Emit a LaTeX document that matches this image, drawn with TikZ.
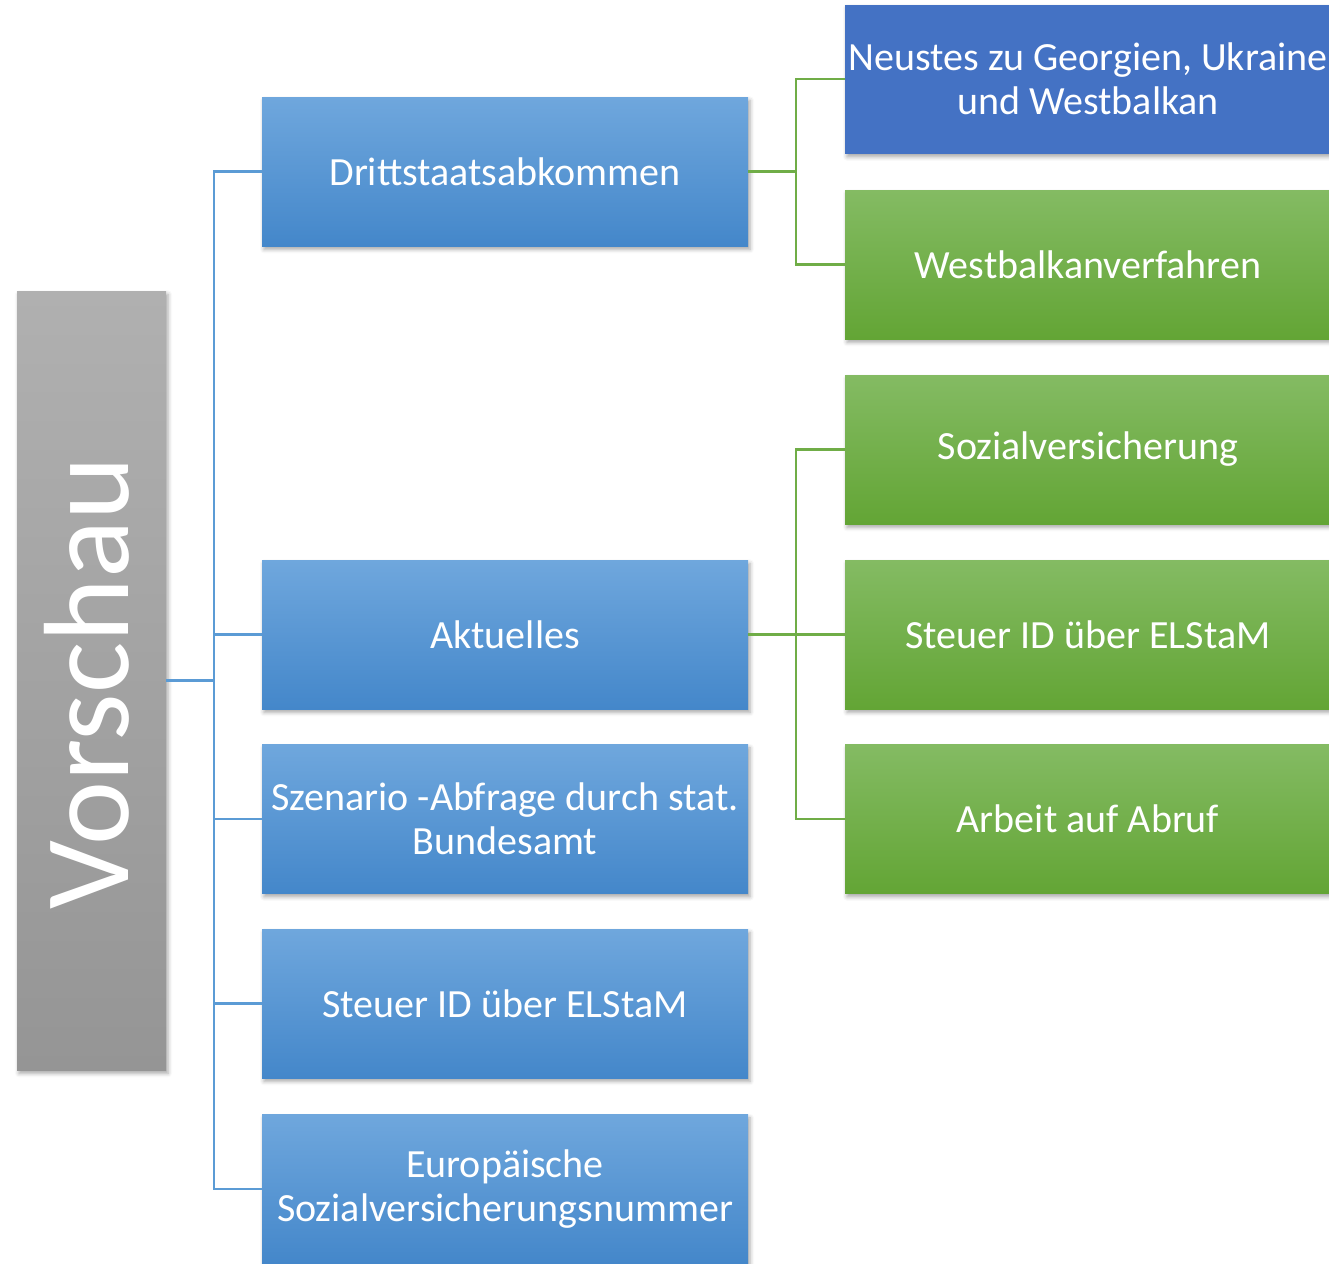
\documentclass[tikz,border=0pt]{standalone}
\usepackage{fontspec}
\setmainfont{Carlito}
\usetikzlibrary{shadows.blur}
\definecolor{bluetop}{HTML}{6FA7DD}
\definecolor{bluebot}{HTML}{4487CA}
\definecolor{greentop}{HTML}{84BB63}
\definecolor{greenbot}{HTML}{63A535}
\definecolor{graytop}{HTML}{B0B0B0}
\definecolor{graybot}{HTML}{959595}
\definecolor{darkblue}{HTML}{4472C4}
\definecolor{bline}{HTML}{5B9BD5}
\definecolor{gline}{HTML}{70AD47}
\tikzset{
  x=0.75pt,y=-0.75pt,
  shad/.style={blur shadow={shadow xshift=1.5pt,shadow yshift=-2.5pt,shadow blur radius=3pt,shadow opacity=35}},
  boxbase/.style={shad,minimum width=364.5pt,minimum height=111.75pt,inner sep=2pt,
    text=white,align=center,font=\fontsize{30}{33}\selectfont},
  bluebox/.style={boxbase,top color=bluetop,bottom color=bluebot},
  greenbox/.style={boxbase,top color=greentop,bottom color=greenbot},
  dbox/.style={boxbase,fill=darkblue},
  bconn/.style={draw=bline,line width=2pt},
  gconn/.style={draw=gline,line width=2pt},
}
\begin{document}
\begin{tikzpicture}
\useasboundingbox (0,0) rectangle (1329,1264);
\clip (0,0) rectangle (1329,1264);
% root
\node[shad,top color=graytop,bottom color=graybot,minimum width=111.75pt,minimum height=584.25pt,inner sep=0pt] (vor) at (91.5,680.5) {};
\node[text=white,rotate=90,font=\fontsize{91}{100}\selectfont,inner sep=0pt] (vort) at (87,683) {Vorschau};
% blue column
\node[bluebox] (d) at (505,171.5) {Drittstaatsabkommen};
\node[bluebox] (a) at (505,634.5) {Aktuelles};
\node[bluebox] (s) at (505,819) {Szenario -Abfrage durch stat.\\Bundesamt};
\node[bluebox] (st) at (505,1003.5) {Steuer ID über ELStaM};
\node[bluebox] (e) at (505,1189) {Europäische\\Sozialversicherungsnummer};
% right column
\node[dbox] (n) at (1088,79) {Neustes zu Georgien, Ukraine\\und Westbalkan};
\node[greenbox] (w) at (1088,264.5) {Westbalkanverfahren};
\node[greenbox] (sv) at (1088,449.5) {Sozialversicherung};
\node[greenbox] (se) at (1088,634.5) {Steuer ID über ELStaM};
\node[greenbox] (ab) at (1088,819) {Arbeit auf Abruf};
% connectors
\coordinate (jb) at (214,680.5);
\draw[bconn] (vor.east) -- (jb);
\draw[bconn] (d.west) -| (jb);
\draw[bconn] (a.west) -| (jb);
\draw[bconn] (s.west) -| (jb);
\draw[bconn] (st.west) -| (jb);
\draw[bconn] (e.west) -| (jb);
\coordinate (jg1) at (796,171.5);
\draw[gconn] (d.east) -- (jg1);
\draw[gconn] (n.west) -| (jg1);
\draw[gconn] (w.west) -| (jg1);
\coordinate (jg2) at (796,634.5);
\draw[gconn] (a.east) -- (jg2);
\draw[gconn] (sv.west) -| (jg2);
\draw[gconn] (se.west) -| (jg2);
\draw[gconn] (ab.west) -| (jg2);
\end{tikzpicture}
\end{document}
